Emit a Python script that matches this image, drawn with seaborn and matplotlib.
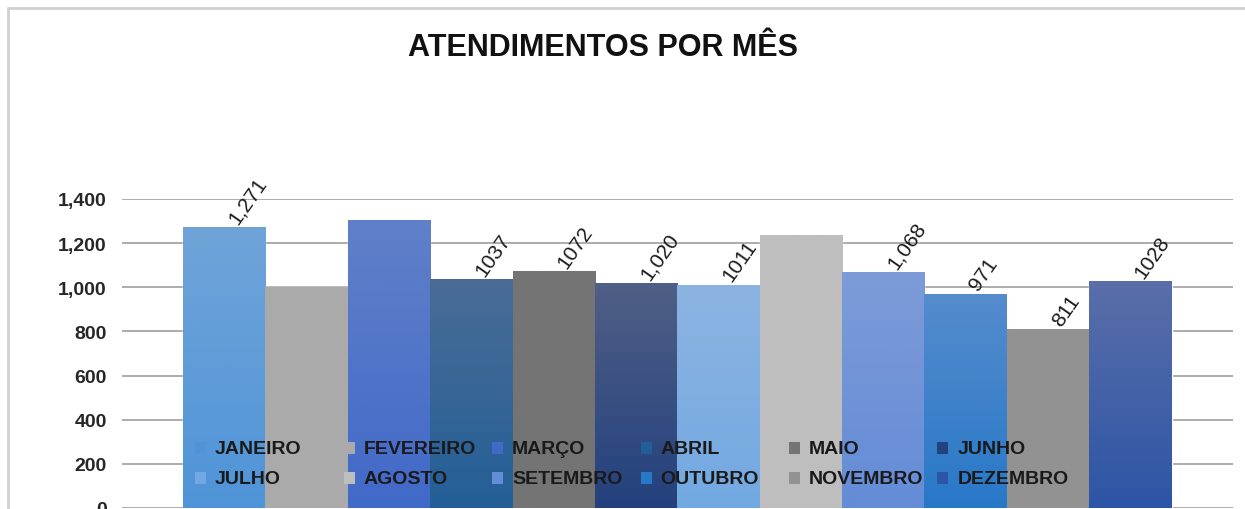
import numpy as np
import pandas as pd
import matplotlib
matplotlib.use("Agg")
import matplotlib.pyplot as plt
from matplotlib.colors import LinearSegmentedColormap
from matplotlib.patches import Rectangle
from matplotlib.lines import Line2D
from matplotlib.ticker import FuncFormatter
import seaborn as sns

# Dados
meses = ["JANEIRO", "FEVEREIRO", "MARÇO", "ABRIL", "MAIO", "JUNHO",
         "JULHO", "AGOSTO", "SETEMBRO", "OUTUBRO", "NOVEMBRO", "DEZEMBRO"]
atendimentos = [1271, 1003, 1306, 1037, 1072, 1020, 1011, 1237, 1068, 971, 811, 1028]
rotulos = ["1,271", "", "", "1037", "1072", "1,020", "1011", "", "1,068", "971", "811", "1028"]

# Cores (topo -> base do gradiente)
cor_topo = ["#70A4D8", "#AAAAAA", "#6080C8", "#4A6C96", "#747474", "#505F87",
            "#8CB4E1", "#BEBEBE", "#7D9BD7", "#558CCD", "#929292", "#5A6EAA"]
cor_base = ["#4F94D8", "#AAAAAA", "#4169C8", "#235F96", "#747474", "#23417D",
            "#72A9E2", "#BEBEBE", "#648CD7", "#2878C8", "#929292", "#2D55A5"]

sns.set_theme(style="white")
plt.rcParams["font.family"] = ["Liberation Sans", "DejaVu Sans"]

fig = plt.figure(figsize=(12.45, 5.10), dpi=100)
ax = fig.add_axes([0.098, 0.002, 0.892, 0.606])

df = pd.DataFrame({"mes": meses, "total": atendimentos})
sns.barplot(data=df, x="mes", y="total", hue="mes", palette=cor_topo,
            width=1.0, saturation=1, legend=False, ax=ax, zorder=2)

# Gradiente vertical em cada barra
grad = np.linspace(0, 1, 256).reshape(-1, 1)
for patch, c0, c1 in zip(ax.patches, cor_topo, cor_base):
    x0, w, h = patch.get_x(), patch.get_width(), patch.get_height()
    cmap = LinearSegmentedColormap.from_list("g", [c0, c1])
    im = ax.imshow(grad, cmap=cmap, extent=[x0, x0 + w, 0, h], aspect="auto",
                   origin="upper", zorder=2.5, interpolation="bilinear")
    im.set_clip_path(patch)

# Rótulos de dados
for patch, txt in zip(ax.patches, rotulos):
    if txt:
        ax.annotate(txt, xy=(patch.get_x() + patch.get_width() / 2, patch.get_height()),
                    xytext=(6, 4), textcoords="offset points", rotation=55,
                    rotation_mode="anchor", ha="left", va="center",
                    fontsize=15, color="#1a1a1a", zorder=6)

ax.set_xlim(-1.24, 12.24)
ax.set_ylim(0, 1400)
ax.set_yticks(range(0, 1401, 200))
ax.yaxis.set_major_formatter(FuncFormatter(lambda v, p: f"{v:,.0f}"))
ax.set_xticks([])
ax.set_xlabel("")
ax.set_ylabel("")
ax.tick_params(axis="y", length=0, pad=11, labelsize=14)
for lbl in ax.get_yticklabels():
    lbl.set_fontweight("bold")
ax.yaxis.grid(True, color="#A6A6A6", lw=1.3)
ax.set_axisbelow(True)
for s in ax.spines.values():
    s.set_visible(False)

# Legenda (6 colunas iguais, 2 linhas)
for i, mes in enumerate(meses):
    col, row = i % 6, i // 6
    x = 0.0658 + col * 0.1337
    y = 0.194 - row * 0.097
    ax.add_patch(Rectangle((x, y - 0.018), 0.0099, 0.036, transform=ax.transAxes,
                           facecolor=cor_base[i], edgecolor="none", zorder=5))
    ax.text(x + 0.018, y, mes, transform=ax.transAxes, ha="left", va="center",
            fontsize=14, fontweight="bold", color="#1a1a1a", zorder=6)

fig.text(0.4847, 1 - 48 / 510, "ATENDIMENTOS POR MÊS", ha="center", va="center",
         fontsize=22, fontweight="bold", color="#111111")

# Moldura
fig.add_artist(Line2D([8 / 1245, 1], [1 - 9 / 510] * 2, transform=fig.transFigure,
                      color="#D0D0D0", lw=2))
fig.add_artist(Line2D([8 / 1245] * 2, [0, 1 - 9 / 510], transform=fig.transFigure,
                      color="#D0D0D0", lw=2))

fig.savefig("out.png", dpi=100)
